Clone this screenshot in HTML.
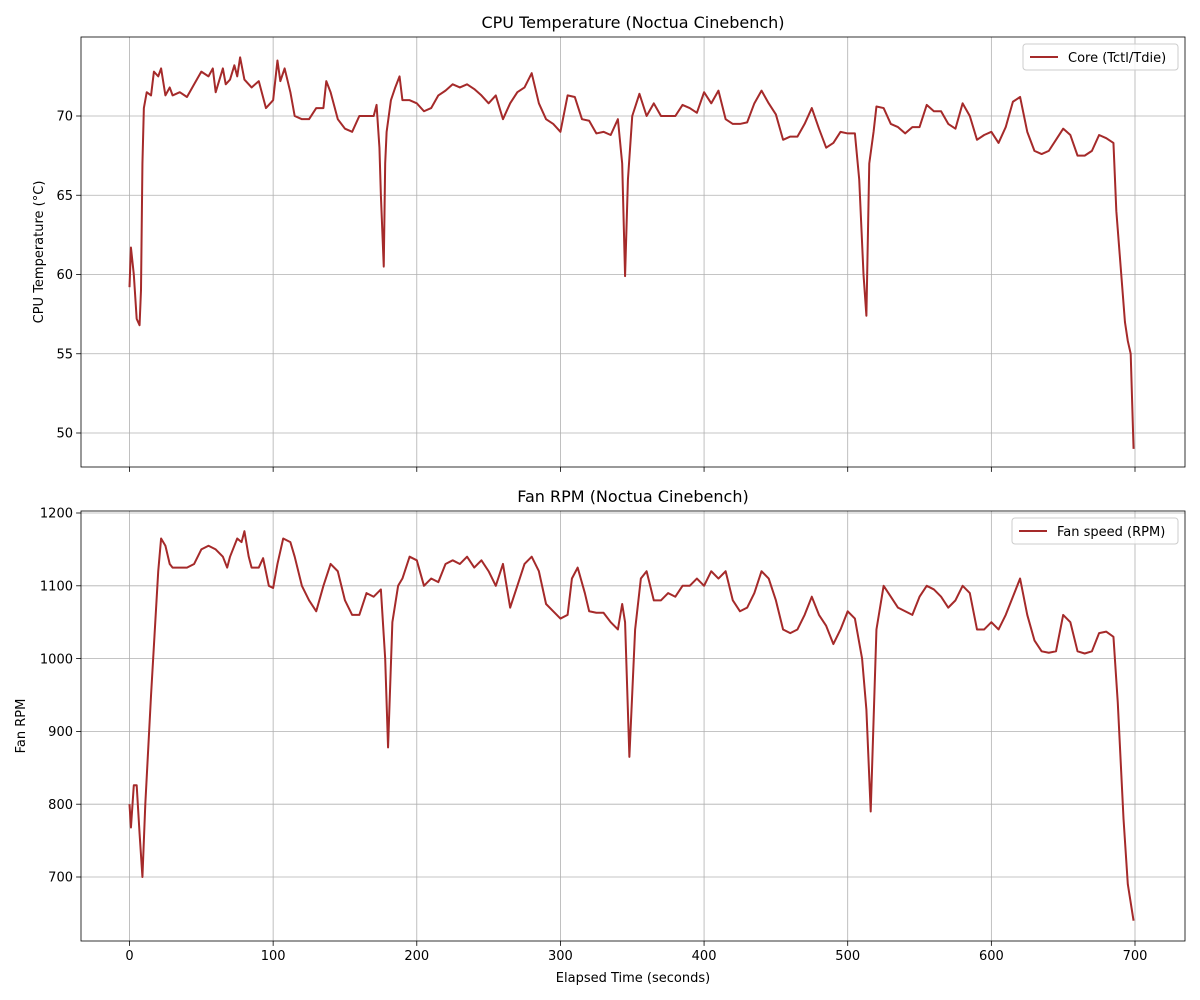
<!DOCTYPE html>
<html><head><meta charset="utf-8"><style>
html,body{margin:0;padding:0;background:#fff;}
svg{display:block;font-family:"DejaVu Sans","Liberation Sans",sans-serif;}
</style></head><body>
<svg id="chart" width="1200" height="1000" viewBox="0 0 1200 1000" xmlns="http://www.w3.org/2000/svg"></svg>
<script>
const tempTimes=[0,1,3,5,7,8,9,10,12,15,17,20,22,25,28,30,35,40,45,50,55,58,60,65,67,70,73,75,77,80,85,90,95,100,103,105,108,112,115,120,125,130,135,137,140,145,150,155,160,165,170,172,174,175,177,178,179,182,185,188,190,195,200,205,210,215,220,225,230,235,240,245,250,255,260,265,270,275,280,285,290,295,300,305,310,315,320,325,330,335,340,343,345,347,350,355,360,365,370,375,380,385,390,395,400,405,410,415,420,425,430,435,440,445,450,455,460,465,470,475,480,485,490,495,500,505,508,511,513,515,518,520,525,530,535,540,545,550,555,560,565,570,575,580,585,590,595,600,605,610,615,620,625,630,635,640,645,650,655,660,665,670,675,680,685,687,690,693,695,697,699];
const tempValues=[59.2,61.7,60,57.2,56.8,59,67,70.5,71.5,71.3,72.8,72.5,73,71.3,71.8,71.3,71.5,71.2,72,72.8,72.5,73,71.5,73,72,72.3,73.2,72.5,73.7,72.3,71.8,72.2,70.5,71,73.5,72.2,73,71.5,70,69.8,69.8,70.5,70.5,72.2,71.5,69.8,69.2,69,70,70,70,70.7,68,65,60.5,67,69,71,71.8,72.5,71,71,70.8,70.3,70.5,71.3,71.6,72,71.8,72,71.7,71.3,70.8,71.3,69.8,70.8,71.5,71.8,72.7,70.8,69.8,69.5,69,71.3,71.2,69.8,69.7,68.9,69,68.8,69.8,67,59.9,66,70,71.4,70,70.8,70,70,70,70.7,70.5,70.2,71.5,70.8,71.6,69.8,69.5,69.5,69.6,70.8,71.6,70.8,70.1,68.5,68.7,68.7,69.5,70.5,69.2,68,68.3,69,68.9,68.9,66,60,57.4,67,69,70.6,70.5,69.5,69.3,68.9,69.3,69.3,70.7,70.3,70.3,69.5,69.2,70.8,70,68.5,68.8,69,68.3,69.3,70.9,71.2,69,67.8,67.6,67.8,68.5,69.2,68.8,67.5,67.5,67.8,68.8,68.6,68.3,64,60.5,57,55.8,55,49];
const fanTimes=[0,1,3,5,7,9,11,15,20,22,25,28,30,35,40,45,50,55,60,65,68,70,75,78,80,83,85,90,93,97,100,103,107,112,115,120,125,130,135,140,145,150,155,160,165,170,175,178,180,183,187,190,195,200,205,210,215,220,225,230,235,240,245,250,255,260,265,270,275,280,285,290,295,300,305,308,312,317,320,325,330,335,340,343,345,348,352,356,360,365,370,375,380,385,390,395,400,405,410,415,420,425,430,435,440,445,450,455,460,465,470,475,480,485,490,495,500,505,510,513,516,520,525,530,535,540,545,550,555,560,565,570,575,580,585,590,595,600,605,610,615,620,625,630,635,640,645,650,655,660,665,670,675,680,685,688,692,695,699];
const fanValues=[800,768,826,826,760,700,800,950,1120,1165,1155,1130,1125,1125,1125,1130,1150,1155,1150,1140,1125,1140,1165,1160,1175,1140,1125,1125,1138,1100,1097,1130,1165,1160,1140,1100,1080,1065,1100,1130,1120,1080,1060,1060,1090,1085,1095,1000,878,1050,1100,1110,1140,1135,1100,1110,1105,1130,1135,1130,1140,1125,1135,1120,1100,1130,1070,1100,1130,1140,1120,1075,1065,1055,1060,1110,1125,1090,1065,1063,1063,1050,1040,1075,1050,865,1040,1110,1120,1080,1080,1090,1085,1100,1100,1110,1100,1120,1110,1120,1080,1065,1070,1090,1120,1110,1080,1040,1035,1040,1060,1085,1060,1045,1020,1040,1065,1055,1000,930,790,1040,1100,1085,1070,1065,1060,1085,1100,1095,1085,1070,1080,1100,1090,1040,1040,1050,1040,1060,1085,1110,1060,1025,1010,1008,1010,1060,1050,1010,1007,1010,1035,1037,1030,940,780,690,640];
const xTicks=[0,100,200,300,400,500,600,700];
const tempTicks=[50,55,60,65,70];
const fanTicks=[700,800,900,1000,1100,1200];

const NS='http://www.w3.org/2000/svg';
const svg=document.getElementById('chart');
function el(tag,attrs,parent,text){const e=document.createElementNS(NS,tag);for(const k in attrs)e.setAttribute(k,attrs[k]);if(text!==undefined)e.textContent=text;(parent||svg).appendChild(e);return e;}
const L=81,R=1185;
const xs=v=>129.5+(v-0)*(1135-129.5)/700;
function panel(o){
  const g=el('g',{});
  
  
  const ys=v=>o.y0+(v-o.v0)*(o.y1-o.y0)/(o.v1-o.v0);
  xTicks.forEach(t=>{
    const gl=el('line',{x1:xs(t),x2:xs(t),y1:o.top,y2:o.bot,stroke:'#b0b0b0','stroke-width':0.8},g);
    
    el('line',{x1:xs(t),x2:xs(t),y1:o.bot,y2:o.bot+4.9,stroke:'#000','stroke-width':0.8},g);
    if(o.xlabels){const tl=el('text',{x:xs(t),y:o.bot+19,'text-anchor':'middle','font-size':13,fill:'#000'},g,String(t));
      }
  });
  o.ticks.forEach(t=>{
    const y=ys(t);
    const gl=el('line',{x1:L,x2:R,y1:y,y2:y,stroke:'#b0b0b0','stroke-width':0.8},g);
    
    el('line',{x1:L-4.9,x2:L,y1:y,y2:y,stroke:'#000','stroke-width':0.8},g);
    const tl=el('text',{x:L-8,y:y+4.7,'text-anchor':'end','font-size':13,fill:'#000'},g,String(t));
    
  });
  const d=o.times.map((t,i)=>(i?'L':'M')+xs(t).toFixed(2)+' '+ys(o.vals[i]).toFixed(2)).join(' ');
  const p=el('path',{d:d,fill:'none',stroke:'#a52a2a','stroke-width':2,'stroke-linejoin':'round'},g);
  
  const fr=el('rect',{x:L,y:o.top,width:R-L,height:o.bot-o.top,fill:'none',stroke:'#000','stroke-width':0.8},g);
  
  const ti=el('text',{x:(L+R)/2,y:o.top-9,'text-anchor':'middle','font-size':16,fill:'#000'},g,o.title);
  
  const cy=(o.top+o.bot)/2;
  const yl=el('text',{x:0,y:0,transform:`translate(${o.ylx},${cy}) rotate(-90)`,'text-anchor':'middle','font-size':13,fill:'#000'},g,o.ylabel);
  
  const lg=el('g',{},g);
  
  el('rect',{x:o.legX,y:o.top+7,width:R-7-o.legX,height:26,rx:3,fill:'#fff','fill-opacity':0.8,stroke:'#ccc','stroke-width':1},lg);
  el('line',{x1:o.legX+7,x2:o.legX+35,y1:o.top+20,y2:o.top+20,stroke:'#a52a2a','stroke-width':2},lg);
  const lt=el('text',{x:o.legX+45,y:o.top+25,'font-size':13,fill:'#000'},lg,o.legend);
  
}
panel({name:'cpu-temperature-panel',top:37,bot:467,v0:70,y0:116,v1:50,y1:433,ticks:tempTicks,times:tempTimes,vals:tempValues,title:'CPU Temperature (Noctua Cinebench)',ylabel:'CPU Temperature (°C)',ylx:43,legend:'Core (Tctl/Tdie)',legX:1023,lineName:'temperature-line',xlabels:false});
panel({name:'fan-rpm-panel',top:511,bot:941,v0:1200,y0:513,v1:700,y1:877,ticks:fanTicks,times:fanTimes,vals:fanValues,title:'Fan RPM (Noctua Cinebench)',ylabel:'Fan RPM',ylx:25,legend:'Fan speed (RPM)',legX:1012,lineName:'fan-rpm-line',xlabels:true});
const xt=el('text',{x:(L+R)/2,y:982,'text-anchor':'middle','font-size':13,fill:'#000'},svg,'Elapsed Time (seconds)');


</script>
</body></html>
